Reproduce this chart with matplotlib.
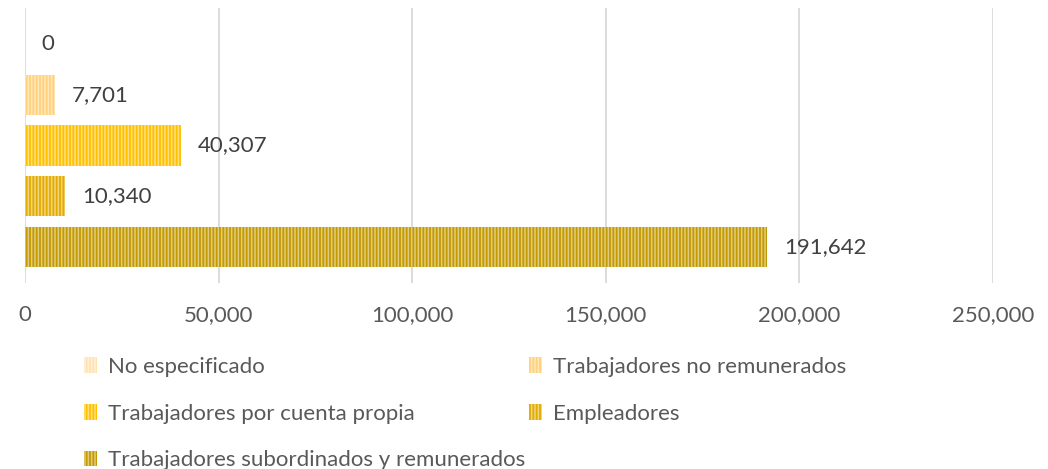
import matplotlib.pyplot as plt
from matplotlib.ticker import FuncFormatter

plt.rcParams['font.family'] = ['Lato', 'DejaVu Sans']
plt.rcParams['hatch.linewidth'] = 1.1

# series drawn from bottom to top
categorias = ["Trabajadores subordinados y remunerados", "Empleadores",
              "Trabajadores por cuenta propia", "Trabajadores no remunerados",
              "No especificado"]
valores = [191642, 10340, 40307, 7701, 0]
colores = ["#C49A00", "#E3AB00", "#FFC000", "#FFD17A", "#FFE2B3"]
ticks = [0, 50000, 100000, 150000, 200000, 250000]

fig = plt.figure(figsize=(10.48, 4.69), dpi=100)
ax = fig.add_axes([25/1048, 1-283/469, 968/1048, 275/469])

barras = []
for i in range(len(valores)):
    b = ax.barh(i, valores[i], height=0.79, color=colores[i],
                edgecolor=(1, 1, 1, 0.5), linewidth=0, hatch="|||||",
                label=categorias[i], zorder=3)
    barras.append(b)
    ax.annotate(f"{valores[i]:,}", (valores[i], i), xytext=(12, 0),
                textcoords="offset points", va="center", ha="left",
                fontsize=16, color="#404040")

ax.set_xlim(0, 250000)
ax.set_ylim(-0.71, 4.71)
ax.set_xticks(ticks)
ax.xaxis.set_major_formatter(FuncFormatter(lambda v, p: f"{int(v):,}"))
ax.set_yticks([])
ax.tick_params(axis="x", length=0, pad=16, labelsize=16, labelcolor="#595959")
ax.grid(axis="x", color="#D9D9D9", linewidth=1.3, zorder=0)
for s in ax.spines.values():
    s.set_visible(False)

orden = [4, 2, 0, 3, 1]
h = [barras[k] for k in orden]
l = [categorias[k] for k in orden]
leg = fig.legend(h, l, ncol=2, loc="upper left",
                 bbox_to_anchor=(84/1048, 1-357/469), frameon=False,
                 fontsize=16, labelcolor="#595959", handlelength=0.6,
                 handleheight=0.7, handletextpad=0.5, labelspacing=1.2,
                 columnspacing=0.15, borderpad=0, borderaxespad=0)

fig.savefig("out.png", dpi=100)
